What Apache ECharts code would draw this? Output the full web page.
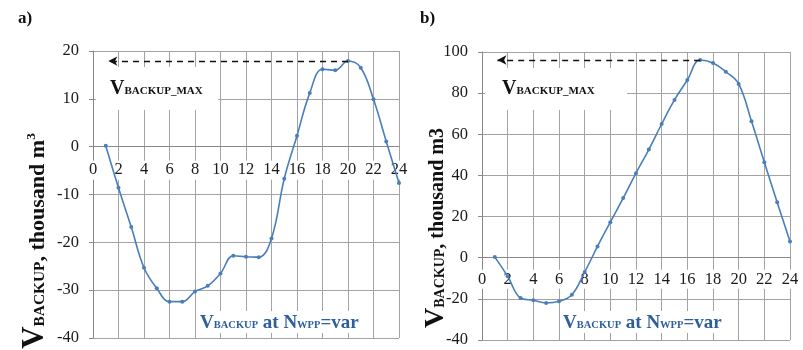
<!DOCTYPE html>
<html>
<head>
<meta charset="utf-8">
<script src="https://cdn.jsdelivr.net/npm/echarts@6/dist/echarts.min.js"></script>
<style>
html, body { margin: 0; padding: 0; background: #fff; }
#chart { width: 803px; height: 350px; }
</style>
</head>
<body>
<div id="chart"></div>
<script>
// hour of day
const hours = [1, 2, 3, 4, 5, 6, 7, 8, 9, 10, 11, 12, 13, 14, 15, 16, 17, 18, 19, 20, 21, 22, 23, 24]
// a) V_BACKUP, thousand m3
const backupA = [0.2, -8.6, -16.8, -25.3, -29.6, -32.4, -32.4, -30.3, -29.1, -26.5, -22.8, -23.0,
  -23.1, -19.2, -6.7, 2.3, 11.2, 16.2, 16.0, 17.9, 16.5, 9.9, 1.1, -7.6]
// b) V_BACKUP, thousand m3
const backupB = [0.3, -9.0, -19.6, -20.7, -22.0, -21.2, -18.0, -7.0, 5.5, 17.3, 29.0, 41.1,
  52.6, 65.0, 76.7, 86.4, 96.1, 94.7, 90.4, 84.5, 66.3, 46.4, 27.0, 7.9]
// axis ranges [min, max, step]
const xRange = [0, 24, 2]
const yRangeA = [-40, 20, 10]
const yRangeB = [-40, 100, 20]
// where the V_BACKUP_MAX arrow ends (hours)
const arrowEnd = 1.2

const serif = '"Liberation Serif", "DejaVu Serif", serif'
const lineColor = '#4a7ebb'
const gridColor = '#a3a3a3'
const blue = '#2d5e9e'

const grids = [
  { left: 93, right: 404, top: 51, bottom: 12 },
  { left: 482, right: 13, top: 52, bottom: 10 }
]

function pairs(vals) {
  return hours.map((h, i) => [h, vals[i]])
}

function peak(vals) {
  let k = 0
  vals.forEach((v, i) => { if (v > vals[k]) k = i })
  return [hours[k], vals[k]]
}

// lift the x axis from the grid bottom up to y = 0
function zeroOffset(g, range) {
  const h = 350 - g.top - g.bottom
  return -h * (0 - range[0]) / (range[1] - range[0])
}

function xAxisOpt(gridIndex, yRange, margin) {
  return {
    type: 'value',
    gridIndex: gridIndex,
    position: 'bottom',
    offset: zeroOffset(grids[gridIndex], yRange),
    min: xRange[0],
    max: xRange[1],
    interval: xRange[2],
    axisLine: { show: true, onZero: false, lineStyle: { color: '#888', width: 1 } },
    axisTick: { show: false },
    axisLabel: {
      fontFamily: serif,
      fontSize: 16.5,
      color: '#1a1a1a',
      margin: margin,
      backgroundColor: '#fff',
      padding: [1, 1]
    },
    splitLine: { show: true, lineStyle: { color: gridColor, width: 1 } }
  }
}

function yAxisOpt(gridIndex, range) {
  return {
    type: 'value',
    gridIndex: gridIndex,
    min: range[0],
    max: range[1],
    interval: range[2],
    axisLine: { show: true, onZero: false, lineStyle: { color: '#888', width: 1 } },
    axisTick: { show: true, inside: false, length: 4, lineStyle: { color: '#888' } },
    axisLabel: { fontFamily: serif, fontSize: 16.5, color: '#1a1a1a', margin: 14 },
    splitLine: { show: true, lineStyle: { color: gridColor, width: 1 } }
  }
}

function seriesOpt(idx, vals) {
  const top = peak(vals)
  return {
    type: 'line',
    xAxisIndex: idx,
    yAxisIndex: idx,
    data: pairs(vals),
    smooth: 0.4,
    symbol: 'circle',
    symbolSize: 4,
    itemStyle: { color: lineColor },
    lineStyle: { color: lineColor, width: 1.6 },
    animation: false,
    markLine: {
      silent: true,
      symbol: ['none', 'arrow'],
      symbolSize: [7, 9],
      label: { show: false },
      lineStyle: { color: '#111', type: [6, 5], width: 1.3 },
      data: [[{ coord: top }, { coord: [arrowEnd, top[1]] }]]
    }
  }
}

// rotated axis title, drawn as text
function richTitle(k) {
  return {
    v: { fontFamily: serif, fontSize: 28 * k, fontWeight: 'bold', fill: '#111', lineHeight: 32, verticalAlign: 'bottom' },
    s: { fontFamily: serif, fontSize: 14 * k, fontWeight: 'bold', fill: '#111', lineHeight: 32, verticalAlign: 'bottom', padding: [0, 0, 3, 0] },
    t: { fontFamily: serif, fontSize: 20 * k, fontWeight: 'bold', fill: '#111', lineHeight: 32, verticalAlign: 'bottom', padding: [0, 0, 2, 0] },
    p: { fontFamily: serif, fontSize: 12 * k, fontWeight: 'bold', fill: '#111', lineHeight: 32, verticalAlign: 'bottom', padding: [0, 0, 13, 0] }
  }
}

function yTitle(x, y, text, k) {
  return {
    type: 'text', x: x, y: y, z: 3, rotation: Math.PI / 2,
    style: { text: text, fill: '#111', align: 'center', verticalAlign: 'middle', rich: richTitle(k) }
  }
}

const richSmall = {
  v: { fontFamily: serif, fontSize: 20, fontWeight: 'bold', verticalAlign: 'bottom', lineHeight: 22 },
  s: { fontFamily: serif, fontSize: 11, fontWeight: 'bold', verticalAlign: 'bottom', lineHeight: 22, padding: [0, 0, 2, 0] }
}

function maxLabel(x) {
  return {
    type: 'text', x: x, y: 88, z: 3,
    style: {
      text: '{v|V}{s|BACKUP_MAX}',
      fill: '#111',
      verticalAlign: 'middle',
      rich: richSmall
    }
  }
}

function varLabel(x) {
  return {
    type: 'text', x: x, y: 322, z: 3,
    style: {
      text: '{v|V}{s|BACKUP}{v| at N}{s|WPP}{v|=var}',
      fill: blue,
      verticalAlign: 'middle',
      backgroundColor: '#fff',
      rich: {
        v: { fontFamily: serif, fontSize: 19, fontWeight: 'bold', fill: blue, verticalAlign: 'bottom', lineHeight: 22 },
        s: { fontFamily: serif, fontSize: 10.5, fontWeight: 'bold', fill: blue, verticalAlign: 'bottom', lineHeight: 22, padding: [0, 0, 2, 0] }
      }
    }
  }
}

const chart = echarts.init(document.getElementById('chart'), null, { renderer: 'canvas' })
chart.setOption({
  backgroundColor: '#fff',
  animation: false,
  grid: grids.map(g => Object.assign({ outerBoundsMode: 'none', containLabel: false }, g)),
  xAxis: [xAxisOpt(0, yRangeA, 14), xAxisOpt(1, yRangeB, 12)],
  yAxis: [yAxisOpt(0, yRangeA), yAxisOpt(1, yRangeB)],
  series: [seriesOpt(0, backupA), seriesOpt(1, backupB)],
  graphic: [
    { type: 'rect', z: 1, shape: { x: 96, y: 67, width: 122, height: 43 }, style: { fill: '#fff' } },
    { type: 'rect', z: 1, shape: { x: 485, y: 68, width: 142, height: 42 }, style: { fill: '#fff' } },
    maxLabel(110),
    maxLabel(502),
    varLabel(200),
    varLabel(563),
    yTitle(35, 241, '{v|V}{s|BACKUP}{t|, thousand m}{p|3}', 1.1),
    yTitle(434, 228, '{v|V}{s|BACKUP}{t|, thousand m3}', 1),
    { type: 'text', x: 18, y: 19, z: 3, style: { text: 'a)', fill: '#111', verticalAlign: 'middle', font: 'bold 17px ' + serif } },
    { type: 'text', x: 420, y: 19, z: 3, style: { text: 'b)', fill: '#111', verticalAlign: 'middle', font: 'bold 17px ' + serif } }
  ]
})
</script>
</body>
</html>
